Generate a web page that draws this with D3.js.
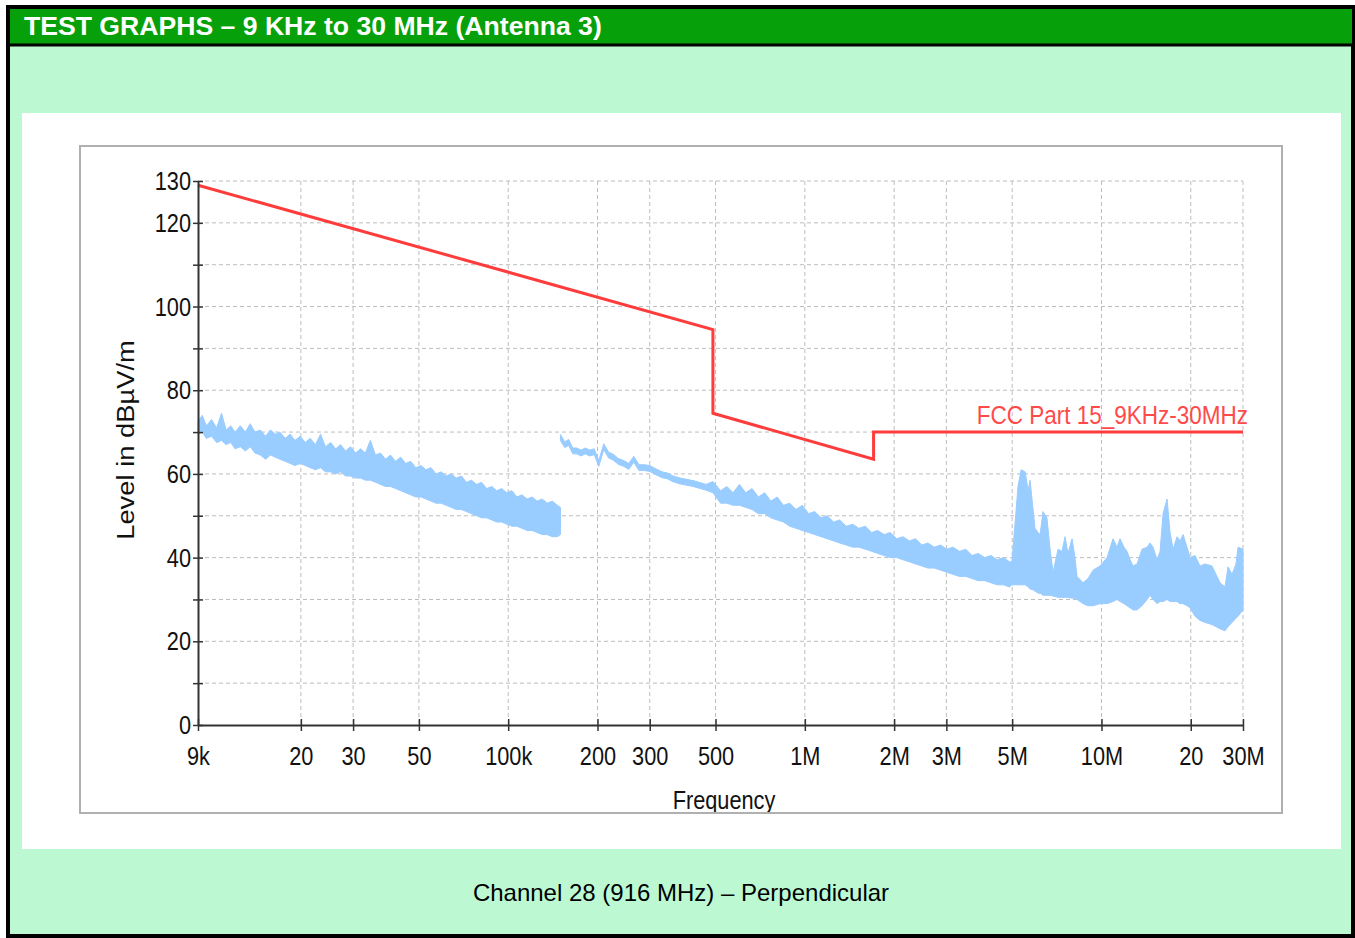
<!DOCTYPE html>
<html>
<head>
<meta charset="utf-8">
<script src="https://cdn.jsdelivr.net/npm/d3@7"></script>
<style>
  body { margin: 0; background: #fff; }
  text { font-family: "Liberation Sans", Arial, sans-serif; }
</style>
</head>
<body>
<svg width="1355" height="938"></svg>
<script>
// x axis ticks (Hz) and their labels
var freqTicks = [9e3, 2e4, 3e4, 5e4, 1e5, 2e5, 3e5, 5e5, 1e6, 2e6, 3e6, 5e6, 1e7, 2e7, 3e7];
var freqLabels = ["9k", "20", "30", "50", "100k", "200", "300", "500", "1M", "2M", "3M", "5M", "10M", "20", "30M"];

// y axis ticks (dBuV/m)
var levelTicks = [0, 10, 20, 30, 40, 50, 60, 70, 80, 90, 100, 110, 120, 130];
var levelLabels = [0, 20, 40, 60, 80, 100, 120, 130];

// FCC Part 15 limit line
var limitFreqs = [9e3, 490e3, 490e3, 1705e3, 1705e3, 30e6];
var limitLevels = [129, 94.5, 74.5, 63.5, 70, 70];

// trace 1: 9 kHz - 150 kHz (kHz, min, max)
var lowFreqs = [9, 9.3, 9.6, 10, 10.4, 10.8, 11.2, 11.6, 12, 12.5, 13, 13.5, 14, 14.6, 15.2, 15.8, 16.4, 17, 17.7, 18.4,
  19.1, 19.9, 20.7, 21.5, 22.4, 23.3, 24.2, 25.2, 26.2, 27.2, 28.3, 29.4, 30.6, 31.8, 33, 34.3, 35.7, 37.1, 38.6, 40.1,
  41.7, 43.4, 45.1, 46.9, 48.8, 50.8, 52.8, 54.9, 57.1, 59.4, 61.8, 64.3, 66.8, 69.5, 72.3, 75.2, 78.2, 81.3, 84.6, 88,
  91.5, 95.1, 98.9, 102.9, 107, 111.3, 115.7, 120.3, 125.1, 130.2, 135.4, 140.8, 146.4, 150];
var lowMax = [72.5, 74, 71.5, 73, 71, 74.5, 70.5, 71.5, 70, 71.5, 70, 72, 70, 70.5, 69, 70.5, 69.5, 70, 68.5, 69.5,
  68, 69, 67.5, 68.5, 67, 69.5, 66.5, 67.5, 66, 67, 65.5, 66.5, 65, 66, 65, 68, 64.5, 65, 63.5, 64.5,
  63, 64, 62.5, 63, 61.5, 62, 61, 61.5, 60, 60.5, 59.5, 60, 59, 59.5, 58, 58.5, 57.5, 58, 56.5, 57,
  56, 56.5, 55.5, 56, 54.5, 55, 54, 54.5, 53.5, 54, 53, 53.5, 52.5, 52];
var lowMin = [69.5, 70, 68.5, 69, 67.5, 68, 67, 67.5, 66, 66.5, 65.5, 66.5, 65, 64.5, 63.5, 64.5, 64, 63.5, 63, 62.5,
  62, 62.5, 62, 61.5, 61, 61.5, 60.5, 60.5, 60, 60.5, 59.5, 59.5, 59, 59, 58.5, 58.5, 58, 57.5, 57, 57,
  56.5, 56, 55.5, 55, 54.5, 54.5, 54, 53.5, 53, 53, 52.5, 52, 51.5, 51.5, 51, 50.5, 50, 49.5, 49.5, 49,
  48.5, 48.5, 48, 47.5, 47.5, 47, 46.5, 46.5, 46, 45.5, 45.5, 45, 45, 45.5];

// trace 2: 150 kHz - 30 MHz (kHz, min, max)
var highFreqs = [150, 155, 160, 165, 170, 176, 182, 188, 195, 202, 210, 218, 226, 235, 245, 255, 265, 276, 288, 300,
  315, 330, 345, 360, 380, 400, 420, 440, 465, 490,
  520, 546, 573, 602, 632, 664, 697, 732, 768, 807, 847, 889, 934, 980, 1030, 1080, 1135, 1190, 1250, 1310,
  1380, 1450, 1520, 1600, 1680, 1760, 1850, 1940, 2040, 2140, 2250, 2360, 2480, 2600, 2730, 2870, 3010, 3160, 3320, 3490,
  3660, 3840, 4040, 4240, 4450, 4670, 4900,
  4990, 5110, 5230, 5360, 5530, 5660, 5745, 5880, 5970, 6110, 6210, 6350, 6550, 6710, 6870, 7140, 7360, 7540, 7710, 7960,
  8140, 8270, 8670, 9010, 9370, 9890, 10440, 10940, 11280, 11550, 11910, 12190, 12490, 12780, 13180, 13700, 14250, 14580, 14920, 15400,
  15760, 16130, 16640, 17030, 17430, 17980, 18400, 18840, 19430, 19890, 20670, 21490, 22340, 23590, 24330, 25100, 26090, 26710, 27550, 28410,
  28870, 30000];
var highMax = [69.4, 67.7, 68.2, 66.2, 66.2, 65.7, 66.2, 65.7, 66, 63.2, 67.2, 65.2, 64.7, 63.7, 63.2, 62.5, 64.2, 62.2, 62.2, 62,
  61.2, 60.5, 60.2, 59.5, 59, 58.7, 58.4, 58, 57.5, 58.2,
  56, 57, 55.5, 57.5, 55.5, 56.5, 54.5, 55.5, 53.5, 54.5, 52.5, 53, 51.5, 52.5, 50.5, 51, 49.5, 50, 48.5, 49,
  47.5, 48, 47, 47.5, 46, 46.5, 45.5, 46, 44.5, 45, 44, 44.5, 43, 43.5, 42.5, 43, 42, 42.5, 41.5, 42,
  40.5, 41, 40, 40.5, 39.5, 40, 39,
  39, 48, 57, 61, 60.5, 56, 58.5, 51.5, 47, 46, 45.5, 51, 49.5, 42, 36.5, 42, 41.5, 45, 41, 44.5,
  40, 35.5, 34, 35, 37, 38, 40, 44.5, 42.5, 44.5, 42.5, 41.5, 39.5, 38, 38.5, 42, 42.5, 43.5, 42.5, 39.5,
  41.5, 50.5, 54, 46, 42, 45, 44, 45.5, 42.5, 40, 40.5, 38, 38.5, 38, 36, 34, 33, 37.8, 36, 38.5,
  42.5, 42];
var highMin = [68, 66.3, 66.8, 64.8, 64.8, 64.3, 64.8, 64.3, 64.6, 61.8, 65.8, 63.8, 63.3, 62.3, 61.8, 61.1, 62.8, 60.8, 60.8, 60.6,
  59.8, 59.1, 58.8, 58.1, 57.6, 57.3, 57, 56.6, 56.1, 55.5,
  53, 53, 52.5, 52.5, 52, 51.5, 50.5, 50.5, 49.5, 49, 48.5, 47.5, 47, 46.5, 46, 45.5, 45, 44.5, 44, 43.5,
  43, 42.5, 42.5, 42, 41.5, 41, 40.5, 40, 40, 39.5, 39, 38.5, 38, 37.5, 37.5, 37, 36.5, 36, 35.5, 35.5,
  35, 34.5, 34.5, 34, 33.5, 33.5, 33,
  33.5, 33.5, 33.5, 33.5, 33.5, 33, 32.5, 32.3, 32, 31.5, 31.5, 31, 31, 31, 30.8, 30.5, 30.5, 30.5, 30.5, 30.3,
  30.3, 30, 29, 28.5, 28.5, 29, 29, 29.5, 30, 29.5, 29, 28.5, 28, 27.5, 27.5, 28.5, 30, 31, 30, 29,
  29.5, 29.5, 30, 29.5, 29.5, 29.5, 29, 29, 28.5, 28, 26, 25, 24.5, 24, 23.5, 23, 22.5, 23.5, 24.5, 25.5,
  26, 27.5];

var svg = d3.select("svg");
var font = "'Liberation Sans', Arial, sans-serif";

// page background, border and title bar
svg.append("rect").attr("x", 0).attr("y", 0).attr("width", 1355).attr("height", 938).attr("fill", "#fff");
svg.append("rect").attr("x", 8).attr("y", 7).attr("width", 1345).attr("height", 929)
  .attr("fill", "#bcf9d3").attr("stroke", "#000").attr("stroke-width", 4);
svg.append("rect").attr("x", 10).attr("y", 9).attr("width", 1342).attr("height", 35).attr("fill", "#06a00a");
svg.append("line").attr("x1", 10).attr("x2", 1352).attr("y1", 45).attr("y2", 45)
  .attr("stroke", "#000").attr("stroke-width", 3);
svg.append("text").attr("x", 24).attr("y", 35)
  .attr("fill", "#fff").attr("font-weight", "bold").attr("font-size", 26.6)
  .text("TEST GRAPHS \u2013 9 KHz to 30 MHz (Antenna 3)");

// white panel and caption
svg.append("rect").attr("x", 22).attr("y", 113).attr("width", 1319).attr("height", 736).attr("fill", "#fff");
svg.append("text").attr("x", 681).attr("y", 901).attr("text-anchor", "middle")
  .attr("font-size", 24).attr("fill", "#000")
  .text("Channel 28 (916 MHz) \u2013 Perpendicular");

// chart frame
svg.append("clipPath").attr("id", "frame")
  .append("rect").attr("x", 81).attr("y", 147).attr("width", 1200).attr("height", 665);
var chart = svg.append("g").attr("clip-path", "url(#frame)");

var margin = {left: 198, right: 1243, top: 181, bottom: 725};
var x = d3.scaleLog().domain([9e3, 30e6]).range([margin.left, margin.right]);
var y = d3.scaleLinear().domain([0, 130]).range([margin.bottom, margin.top]);

// dashed grid
chart.selectAll(".hgrid").data(levelTicks.slice(1)).enter().append("line")
  .attr("x1", margin.left).attr("x2", margin.right)
  .attr("y1", function (d) { return y(d); }).attr("y2", function (d) { return y(d); })
  .attr("stroke", "#bdbdbd").attr("stroke-dasharray", "4,3");
chart.selectAll(".vgrid").data(freqTicks.slice(1)).enter().append("line")
  .attr("y1", margin.top).attr("y2", margin.bottom)
  .attr("x1", function (d) { return x(d); }).attr("x2", function (d) { return x(d); })
  .attr("stroke", "#bdbdbd").attr("stroke-dasharray", "4,3");

// measured traces
function band(freqs, mins, maxs) {
  return freqs.map(function (f, i) { return {f: f * 1000, lo: mins[i], hi: maxs[i]}; });
}
var area = d3.area()
  .x(function (d) { return x(d.f); })
  .y0(function (d) { return y(d.lo); })
  .y1(function (d) { return y(d.hi); });

[band(lowFreqs, lowMin, lowMax), band(highFreqs, highMin, highMax)].forEach(function (trace) {
  chart.append("path").datum(trace)
    .attr("d", area)
    .attr("fill", "#99ccff").attr("stroke", "#99ccff").attr("stroke-width", 1);
});

// limit line
var limit = limitFreqs.map(function (f, i) { return [f, limitLevels[i]]; });
chart.append("path").datum(limit)
  .attr("d", d3.line().x(function (d) { return x(d[0]); }).y(function (d) { return y(d[1]); }))
  .attr("fill", "none").attr("stroke", "#ff3c3c").attr("stroke-width", 3);
chart.append("text")
  .attr("transform", "translate(1248,424) scale(0.9,1)")
  .attr("text-anchor", "end").attr("font-size", 25).attr("fill", "#ff4a4a")
  .text("FCC Part 15_9KHz-30MHz");

// axes
var axisBottom = d3.axisBottom(x).tickValues(freqTicks)
  .tickFormat(function (d, i) { return freqLabels[i]; }).tickSizeOuter(0);
var axisLeft = d3.axisLeft(y).tickValues(levelTicks)
  .tickFormat(function (d) { return levelLabels.indexOf(d) >= 0 ? d : ""; }).tickSizeOuter(0);

var gx = chart.append("g").attr("transform", "translate(0," + margin.bottom + ")").call(axisBottom);
var gy = chart.append("g").attr("transform", "translate(" + margin.left + ",0)").call(axisLeft);

[gx, gy].forEach(function (g) {
  g.select(".domain").attr("stroke", "#333").attr("stroke-width", 2);
  g.selectAll(".tick line").attr("stroke", "#333").attr("stroke-width", 1.5);
  g.selectAll(".tick text").attr("font-family", font).attr("font-size", 25)
    .attr("fill", "#111").attr("transform", "scale(0.87,1)");
});
gx.selectAll(".tick line").attr("y1", -6).attr("y2", 6);
gx.selectAll(".tick text").attr("y", 40).attr("dy", null);
gy.selectAll(".tick line").attr("x1", 5).attr("x2", -5);
gy.selectAll(".tick text").attr("x", -8).attr("dy", "0.34em");

// axis titles
chart.append("text")
  .attr("transform", "translate(134,440) rotate(-90) scale(1.14,1)")
  .attr("text-anchor", "middle").attr("font-size", 24).attr("fill", "#111")
  .text("Level in dB\u00b5V/m");
chart.append("text")
  .attr("transform", "translate(724,809) scale(0.87,1)")
  .attr("text-anchor", "middle").attr("font-size", 25).attr("fill", "#111")
  .text("Frequency");

svg.append("rect").attr("x", 80).attr("y", 146).attr("width", 1202).attr("height", 667)
  .attr("fill", "none").attr("stroke", "#b0b0b0").attr("stroke-width", 2);
</script>
</body>
</html>
